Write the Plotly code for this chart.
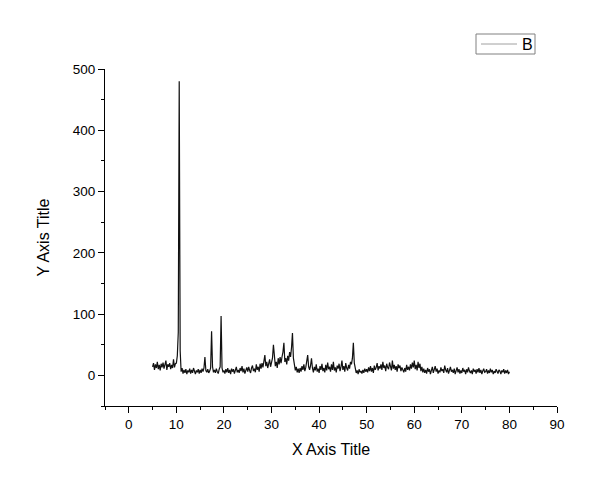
import numpy as np
import plotly.graph_objects as go

# 2-theta grid: 5.0 .. 80.0, step 0.2
two_theta = np.round(np.arange(5.0, 80.01, 0.2), 1)

# intensity, one row per degree (x.0, x.2, x.4, x.6, x.8)
intensity = [
    14, 20, 9, 18, 12,      # 5
    22, 10, 17, 8, 19,      # 6
    13, 21, 11, 16, 24,     # 7
    9, 18, 14, 20, 10,      # 8
    17, 12, 26, 13, 19,     # 9
    20, 32, 70, 480, 40,    # 10
    6, 12, 3, 9, 4,         # 11
    10, 2, 8, 5, 11,        # 12
    3, 9, 4, 12, 6,         # 13
    2, 8, 5, 10, 3,         # 14
    9, 4, 11, 6, 12,        # 15
    30, 8, 5, 10, 4,        # 16
    7, 12, 72, 14, 5,       # 17
    9, 4, 11, 6, 3,         # 18
    10, 14, 97, 12, 5,      # 19
    8, 3, 10, 5, 12,        # 20
    4, 9, 2, 11, 6,         # 21
    10, 3, 8, 14, 5,        # 22
    9, 4, 12, 7, 15,        # 23
    5, 11, 3, 9, 13,        # 24
    6, 14, 8, 4, 12,        # 25
    16, 7, 11, 5, 18,       # 26
    9, 14, 6, 19, 11,       # 27
    20, 13, 25, 33, 15,     # 28
    22, 12, 18, 26, 14,     # 29
    20, 28, 50, 24, 15,     # 30
    22, 12, 28, 18, 30,     # 31
    20, 30, 38, 53, 22,     # 32
    28, 18, 32, 24, 38,     # 33
    30, 45, 69, 28, 12,     # 34
    8, 14, 5, 11, 4,        # 35
    12, 6, 15, 9, 18,       # 36
    7, 13, 22, 33, 14,      # 37
    9, 16, 28, 12, 5,       # 38
    14, 8, 18, 6, 11,       # 39
    4, 15, 9, 19, 7,        # 40
    12, 5, 17, 8, 21,       # 41
    10, 14, 6, 18, 9,       # 42
    22, 8, 13, 5, 16,       # 43
    11, 19, 7, 14, 24,      # 44
    9, 15, 6, 20, 12,       # 45
    8, 17, 11, 22, 18,      # 46
    28, 53, 20, 10, 4,      # 47
    8, 2, 10, 5, 7,         # 48
    3, 9, 4, 11, 6,         # 49
    10, 5, 13, 7, 15,       # 50
    6, 12, 4, 16, 9,        # 51
    13, 20, 8, 15, 11,      # 52
    18, 9, 22, 12, 16,      # 53
    7, 19, 13, 10, 21,      # 54
    14, 8, 24, 11, 17,      # 55
    9, 15, 6, 18, 12,       # 56
    16, 7, 13, 10, 5,       # 57
    12, 6, 17, 9, 14,       # 58
    8, 18, 11, 21, 13,      # 59
    24, 10, 17, 8, 22,      # 60
    12, 19, 7, 14, 5,       # 61
    11, 4, 9, 3, 12,        # 62
    6, 10, 2, 8, 14,        # 63
    4, 9, 15, 6, 11,        # 64
    3, 8, 5, 13, 7,         # 65
    10, 4, 16, 9, 5,        # 66
    12, 3, 8, 14, 6,        # 67
    9, 4, 11, 2, 7,         # 68
    13, 5, 10, 3, 8,        # 69
    4, 12, 6, 9, 2,         # 70
    10, 5, 13, 7, 4,        # 71
    8, 2, 11, 6, 9,         # 72
    3, 10, 5, 12, 4,        # 73
    9, 2, 7, 11, 5,         # 74
    6, 10, 3, 8, 4,         # 75
    11, 5, 9, 2, 7,         # 76
    4, 10, 6, 3, 9,         # 77
    7, 2, 8, 5, 10,         # 78
    3, 8, 4, 9, 2,          # 79
    6,                      # 80
]

x_ticks = [0, 10, 20, 30, 40, 50, 60, 70, 80, 90]
y_ticks = [0, 100, 200, 300, 400, 500]
series_name = 'B'

font = 'Liberation Sans, Arial, sans-serif'

# plot area in figure pixels
L, R, T, B = 97, 51, 61, 93
W, H = 600, 491
pw, ph = W - L - R, H - T - B

def px(x):
    return (x - L) / pw

def py(y):
    return (H - B - y) / ph

fig = go.Figure()

fig.add_trace(go.Scatter(x=two_theta, y=intensity, mode='lines', name=series_name,
                         showlegend=False, line=dict(color='#111111', width=1.2)))

axis_common = dict(showline=True, linecolor='black', linewidth=1, showgrid=False,
                   zeroline=False, ticks='outside', ticklen=6, tickwidth=1, tickcolor='black',
                   automargin=False,
                   tickfont=dict(family=font, size=13.5, color='black'),
                   title_font=dict(family=font, size=16, color='black'))

fig.update_layout(
    width=W, height=H,
    plot_bgcolor='white', paper_bgcolor='white',
    margin=dict(l=L, r=R, t=T, b=B),
    showlegend=False,
    xaxis=dict(range=[-5, 90], tickvals=x_ticks, title=dict(text='X Axis Title', standoff=12),
               minor=dict(dtick=5, tick0=5, ticks='outside', ticklen=3, tickcolor='black'),
               **axis_common),
    yaxis=dict(range=[-50, 500], tickvals=y_ticks, title=dict(text='Y Axis Title', standoff=19),
               minor=dict(dtick=50, tick0=-50, ticks='outside', ticklen=3, tickcolor='black'),
               **axis_common),
)

# Origin-style legend box, drawn by hand so it stays compact
fig.add_shape(type='rect', xref='paper', yref='paper',
              x0=px(468), x1=px(527), y0=py(46), y1=py(26),
              line=dict(color='#808080', width=1), fillcolor='white')
fig.add_shape(type='line', xref='paper', yref='paper',
              x0=px(473), x1=px(509), y0=py(36), y1=py(36),
              line=dict(color='#a0a0a0', width=1))
fig.add_annotation(xref='paper', yref='paper', x=px(512), y=py(36),
                   xanchor='left', yanchor='middle', text=series_name, showarrow=False,
                   font=dict(family=font, size=16, color='black'))

fig.write_html("out.html")
